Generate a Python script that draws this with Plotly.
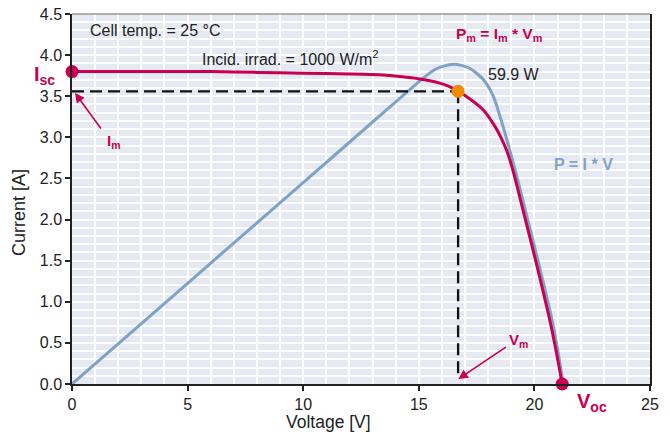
import plotly.graph_objects as go

# I-V curve (red)
iv_voltage = [0, 2, 4, 6, 8, 10, 12, 13.3, 14.2, 15.05, 15.9, 16.3, 16.7, 17.2, 17.8, 18.3, 18.55, 18.8, 19.05, 19.3, 19.6, 20.1, 20.6, 20.9, 21.2]
iv_current = [3.80, 3.80, 3.80, 3.80, 3.79, 3.78, 3.77, 3.76, 3.74, 3.71, 3.66, 3.62, 3.56, 3.47, 3.33, 3.13, 3.00, 2.84, 2.62, 2.35, 2.01, 1.45, 0.86, 0.46, 0.0]

# P-V curve (blue, drawn on the current axis scale)
pv_voltage = [0, 5, 10, 14, 15.1, 15.5, 15.9, 16.57, 17.2, 17.8, 18.22, 18.55, 18.85, 19.15, 19.4, 19.7, 20.2, 20.7, 20.98, 21.25]
pv_value = [0, 1.225, 2.45, 3.43, 3.70, 3.79, 3.85, 3.89, 3.84, 3.70, 3.50, 3.22, 2.93, 2.62, 2.35, 2.01, 1.45, 0.86, 0.46, 0.0]

isc = 3.80
voc = 21.2
vm = 16.7
im = 3.56

x_ticks = [0, 5, 10, 15, 20, 25]
y_ticks = [0.0, 0.5, 1.0, 1.5, 2.0, 2.5, 3.0, 3.5, 4.0, 4.5]

RED = "#c8004f"
BLUE = "#7fa2c6"
ORANGE = "#f28a00"
DARK = "#222222"
FONT = "Liberation Sans, Arial, sans-serif"

fig = go.Figure()

fig.add_trace(go.Scatter(x=pv_voltage, y=pv_value, mode="lines",
                         line=dict(color=BLUE, width=3, shape="spline", smoothing=0.7), hoverinfo="skip"))
fig.add_trace(go.Scatter(x=iv_voltage, y=iv_current, mode="lines",
                         line=dict(color=RED, width=3, shape="spline", smoothing=0.7), hoverinfo="skip"))

# dashed guide lines
fig.add_trace(go.Scatter(x=[0, vm], y=[im, im], mode="lines",
                         line=dict(color="#111111", width=2.3, dash="12px,6px"), hoverinfo="skip"))
fig.add_trace(go.Scatter(x=[vm, vm], y=[im, 0.06], mode="lines",
                         line=dict(color="#111111", width=2.3, dash="12px,6px"), hoverinfo="skip"))

# markers
fig.add_trace(go.Scatter(x=[0, voc], y=[isc, 0], mode="markers", marker=dict(color=RED, size=13),
                         cliponaxis=False, hoverinfo="skip"))
fig.add_trace(go.Scatter(x=[vm], y=[im], mode="markers", marker=dict(color=ORANGE, size=13),
                         cliponaxis=False, hoverinfo="skip"))

ann = []


def px(xp, yp):
    # pixel position -> paper coordinates of the plot area (72..650, 14..384)
    return (xp - 72) / (650 - 72), (384 - yp) / (384 - 14)


def txt(xp, yp, text, size=16, color=DARK, bold=False, xanchor="left", angle=0):
    if bold:
        text = "<b>" + text + "</b>"
    x, y = px(xp, yp)
    ann.append(dict(x=x, y=y, xref="paper", yref="paper", text=text, showarrow=False, textangle=angle,
                    font=dict(family=FONT, size=size, color=color), xanchor=xanchor, yanchor="middle"))


txt(88, 30, "Cell temp. = 25 °C", 16)
txt(200, 58, "Incid. irrad. = 1000 W/m<sup>2</sup>", 16)
txt(454, 34, "P<sub>m</sub> = I<sub>m</sub> * V<sub>m</sub>", 15.5, RED, True)
txt(486, 74, "59.9 W", 16)
txt(552, 164, "P = I * V", 16, BLUE, True)
txt(32, 75, "I<sub>sc</sub>", 20, RED, True)
txt(105, 141, "I<sub>m</sub>", 15, RED, True)
txt(507, 340, "V<sub>m</sub>", 15, RED, True)
txt(575, 403, "V<sub>oc</sub>", 20, RED, True)

# axis titles
txt(328, 422, "Voltage [V]", 17.5, DARK, False, "center")
txt(19, 213, "Current [A]", 18, DARK, False, "center", -90)

# arrows
ann.append(dict(x=0.13, y=3.54, xref="x", yref="y", text="", showarrow=True, arrowhead=2, arrowsize=1.2,
                arrowwidth=1.6, arrowcolor=RED, ax=27, ay=37))
ann.append(dict(x=16.71, y=0.06, xref="x", yref="y", text="", showarrow=True, arrowhead=2, arrowsize=1.2,
                arrowwidth=1.6, arrowcolor=RED, ax=49, ay=-33))

fig.update_layout(
    width=670, height=432,
    margin=dict(l=72, r=20, t=14, b=48, autoexpand=False),
    paper_bgcolor="white",
    plot_bgcolor="#e4e9f2",
    showlegend=False,
    font=dict(family=FONT, size=16, color=DARK),
    annotations=ann,
    shapes=[dict(type="line", xref="paper", yref="paper", x0=0, x1=1, y0=1, y1=1,
                 line=dict(color="#999999", width=1.5))],
)

fig.update_xaxes(
    range=[0, 25], tickvals=x_ticks, ticktext=[str(v) for v in x_ticks],
    showline=True, linecolor=DARK, linewidth=1.5,
    ticks="outside", ticklen=5, tickcolor=DARK, tickwidth=1.5,
    showgrid=True, gridcolor="white", gridwidth=1.5,
    minor=dict(dtick=1, showgrid=True, gridcolor="white", gridwidth=1.5),
    zeroline=False, automargin=False, ticklabeloverflow="allow",
    tickfont=dict(size=16, color=DARK),
)
fig.update_yaxes(
    range=[0, 4.5], tickvals=y_ticks, ticktext=[f"{v:.1f}" for v in y_ticks],
    showline=True, linecolor=DARK, linewidth=1.5, mirror=True,
    ticks="outside", ticklen=5, tickcolor=DARK, tickwidth=1.5,
    showgrid=True, gridcolor="white", gridwidth=1.5,
    minor=dict(dtick=0.1, showgrid=True, gridcolor="white", gridwidth=1.5, ticks=""),
    zeroline=False, automargin=False, ticklabeloverflow="allow",
    tickfont=dict(size=16, color=DARK),
)

fig.write_html("out.html", config={"displayModeBar": False},
               post_script="document.body.style.margin='0px';")
